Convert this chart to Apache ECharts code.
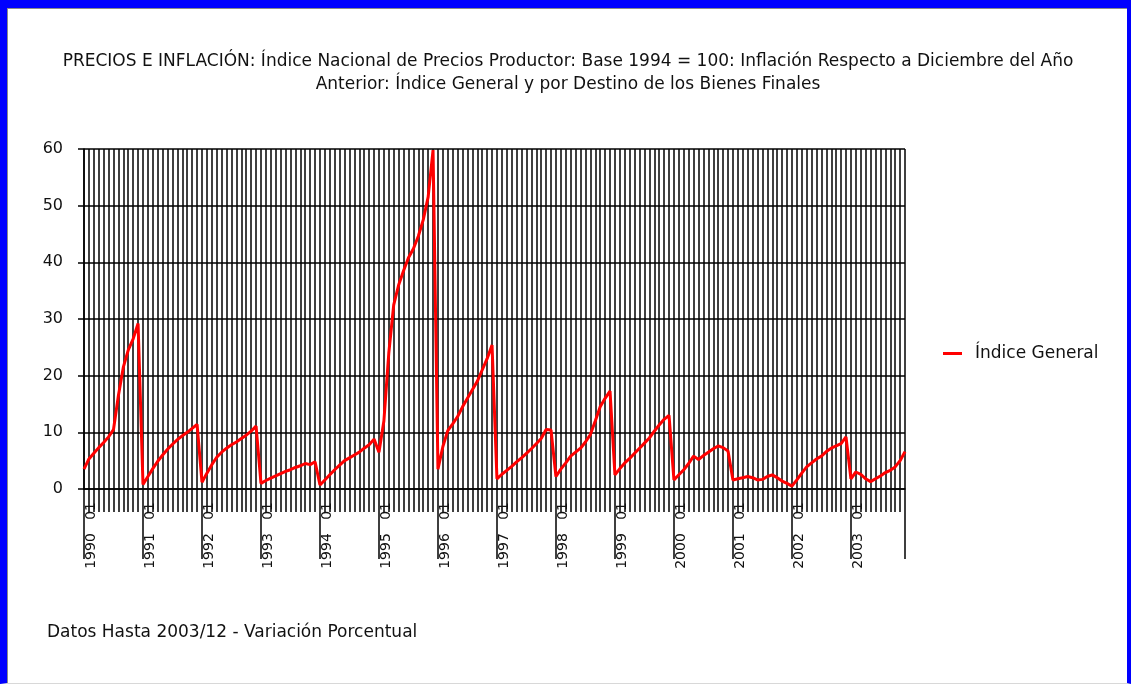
<!DOCTYPE html>
<html>
<head>
<meta charset="utf-8">
<script src="https://cdn.jsdelivr.net/npm/echarts@6/dist/echarts.min.js"></script>
<style>
  html, body { margin: 0; padding: 0; background: #fff; }
  #wrap { position: relative; width: 1131px; height: 684px; overflow: hidden; }
  #chart { position: absolute; left: 0; top: 0; width: 1131px; height: 684px; }
  #frame {
    position: absolute; left: 0; top: 0; width: 1131px; height: 684px;
    box-sizing: border-box; pointer-events: none;
    border-left: 7px solid #0000ff; border-top: 8px solid #0000ff;
    border-right: 4px solid #0000ff; border-bottom: 1px solid #d8d8d8;
  }
  #inner {
    position: absolute; left: 7px; top: 8px; right: 4px; bottom: 1px;
    border-left: 1px solid #8a8a8a; border-top: 1px solid #8a8a8a;
    pointer-events: none;
  }
</style>
</head>
<body>
<div id="wrap">
  <div id="chart"></div>
  <div id="frame"></div>
  <div id="inner"></div>
</div>
<script>
// Monthly cumulative inflation vs. December of the previous year (%)
const years = [1990, 1991, 1992, 1993, 1994, 1995, 1996, 1997, 1998, 1999, 2000, 2001, 2002, 2003];
const months = ['01', '02', '03', '04', '05', '06', '07', '08', '09', '10', '11', '12'];

const v1990 = [3.5, 5.3, 6.3, 7.3, 8.2, 9.2, 10.5, 16.5, 21.5, 24.5, 26.5, 29.2];
const v1991 = [0.8, 2.2, 3.6, 4.9, 6.0, 7.0, 7.9, 8.7, 9.4, 10.0, 10.7, 11.4];
const v1992 = [1.2, 2.8, 4.3, 5.6, 6.5, 7.2, 7.8, 8.3, 8.9, 9.5, 10.2, 11.1];
const v1993 = [1.0, 1.5, 1.9, 2.3, 2.7, 3.1, 3.4, 3.8, 4.1, 4.5, 4.3, 4.8];
const v1994 = [0.7, 1.6, 2.5, 3.4, 4.2, 5.0, 5.5, 6.0, 6.5, 7.2, 7.8, 8.8];
const v1995 = [6.5, 12.0, 24.0, 32.5, 36.0, 38.5, 40.8, 42.4, 44.6, 47.5, 51.5, 59.8];
const v1996 = [3.5, 7.5, 10.3, 11.5, 12.8, 14.5, 16.0, 17.5, 19.0, 21.0, 23.0, 25.4];
const v1997 = [1.8, 2.6, 3.3, 4.0, 4.8, 5.5, 6.3, 7.1, 8.0, 8.9, 10.5, 10.4];
const v1998 = [2.2, 3.5, 4.6, 5.8, 6.5, 7.2, 8.3, 9.6, 12.0, 14.5, 16.0, 17.3];
const v1999 = [2.5, 3.6, 4.6, 5.4, 6.3, 7.2, 8.1, 9.0, 10.2, 11.3, 12.3, 13.0];
const v2000 = [1.6, 2.5, 3.4, 4.5, 5.8, 5.2, 5.9, 6.5, 7.1, 7.6, 7.3, 6.7];
const v2001 = [1.6, 1.8, 2.0, 2.2, 2.0, 1.6, 1.7, 2.2, 2.5, 2.0, 1.4, 1.0];
const v2002 = [0.5, 1.6, 2.8, 3.9, 4.6, 5.3, 5.8, 6.6, 7.2, 7.6, 8.0, 9.2];
const v2003 = [1.8, 3.0, 2.6, 1.8, 1.3, 1.8, 2.3, 2.9, 3.3, 3.9, 5.0, 6.6];

const yearValues = [v1990, v1991, v1992, v1993, v1994, v1995, v1996,
                    v1997, v1998, v1999, v2000, v2001, v2002, v2003];

const seriesName = 'Índice General';
const titleText = 'PRECIOS E INFLACIÓN: Índice Nacional de Precios Productor: Base 1994 = 100: Inflación Respecto a Diciembre del Año\nAnterior: Índice General y por Destino de los Bienes Finales';
const footText = 'Datos Hasta 2003/12 - Variación Porcentual';

const categories = [];
years.forEach(y => months.forEach(m => categories.push(y + '   ' + m)));
const values = [].concat(...yearValues);
const lastIdx = categories.length - 1;

const FONT = '"DejaVu Sans", Verdana, sans-serif';
const INK = '#111';
const chart = echarts.init(document.getElementById('chart'), null, { renderer: 'canvas' });

chart.setOption({
  animation: false,
  backgroundColor: '#ffffff',
  textStyle: { fontFamily: FONT, color: INK },
  title: {
    text: titleText,
    left: 568, top: 50, padding: 0, textAlign: 'center',
    textStyle: { fontFamily: FONT, fontSize: 17, fontWeight: 'normal', color: INK, lineHeight: 23 }
  },
  legend: {
    data: [seriesName],
    left: 943, top: 345, padding: 0,
    icon: 'rect', itemWidth: 19, itemHeight: 3, itemGap: 8,
    textStyle: { fontFamily: FONT, fontSize: 17, color: INK, padding: [0, 0, 0, 8] }
  },
  graphic: [{
    type: 'text', left: 47, top: 624,
    style: { text: footText, font: '17px ' + FONT, fill: INK }
  }],
  grid: { left: 84, right: 226, top: 149, bottom: 195, containLabel: false },
  xAxis: [{
    type: 'category',
    data: categories,
    boundaryGap: false,
    axisLine: { show: true, lineStyle: { color: '#000', width: 1.5 } },
    axisTick: { show: true, interval: 0, length: 23, lineStyle: { color: '#000', width: 1.5 } },
    axisLabel: { show: false },
    splitLine: { show: true, interval: 0, lineStyle: { color: '#000', width: 1.5 } }
  }, {
    type: 'category',
    data: categories,
    position: 'bottom',
    boundaryGap: false,
    axisLine: { show: false },
    axisTick: {
      show: true, length: 70,
      interval: (i) => i % 12 === 0 || i === lastIdx,
      lineStyle: { color: '#000', width: 1.5 }
    },
    axisLabel: {
      show: true, rotate: 90, margin: 13,
      interval: (i) => i % 12 === 0,
      verticalAlign: 'top',
      fontFamily: FONT, fontSize: 14, color: INK
    },
    splitLine: { show: false }
  }],
  yAxis: {
    type: 'value',
    min: 0, max: 60, interval: 10,
    axisLine: { show: true, lineStyle: { color: '#000', width: 1.5 } },
    axisTick: { show: true, length: 6, lineStyle: { color: '#000', width: 1.5 } },
    axisLabel: { margin: 21, fontFamily: FONT, fontSize: 16, color: INK },
    splitLine: { show: true, lineStyle: { color: '#000', width: 1.5 } }
  },
  series: [{
    name: seriesName,
    type: 'line',
    xAxisIndex: 0,
    data: values,
    symbol: 'none',
    smooth: false,
    itemStyle: { color: '#ff0000' },
    lineStyle: { color: '#ff0000', width: 3 }
  }]
});
</script>
</body>
</html>
